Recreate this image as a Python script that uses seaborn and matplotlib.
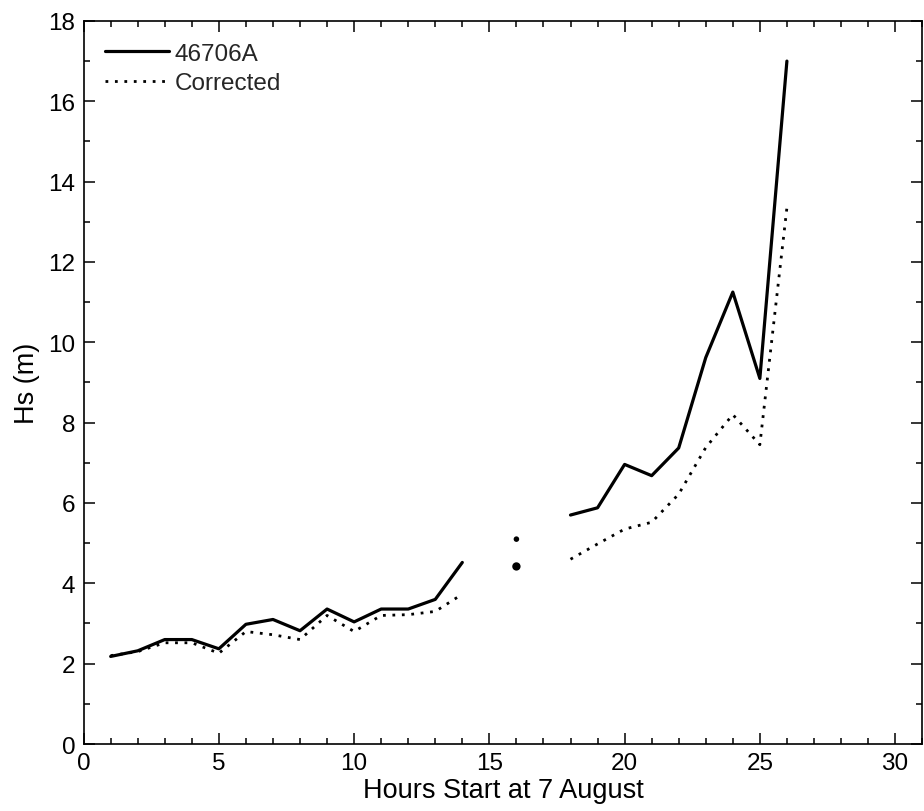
import numpy as np
import pandas as pd
import matplotlib
matplotlib.use("Agg")
import matplotlib.pyplot as plt
from matplotlib.ticker import MultipleLocator
from matplotlib.lines import Line2D
import seaborn as sns

# Hourly significant wave height, hours counted from 7 August
hours = list(range(1, 27))
hs_buoy = [2.18, 2.32, 2.6, 2.6, 2.37, 2.98, 3.1, 2.82, 3.36, 3.04, 3.36, 3.36,
           3.6, 4.52, np.nan, 5.1, np.nan, 5.7, 5.88, 6.96, 6.68, 7.37, 9.62,
           11.25, 9.1, 17.0]
hs_corrected = [2.2, 2.3, 2.52, 2.52, 2.26, 2.8, 2.72, 2.6, 3.2, 2.8, 3.2, 3.22,
                3.3, 3.73, np.nan, 4.42, np.nan, 4.6, 4.98, 5.35, 5.52, 6.22,
                7.38, 8.2, 7.45, 13.35]
series_labels = ["46706A", "Corrected"]

sns.set_theme(style="ticks")
plt.rcParams["font.family"] = ["Liberation Sans", "DejaVu Sans"]


def segmented(values):
    """Split a series with gaps into contiguous runs (unit ids)."""
    df = pd.DataFrame({"hour": hours, "hs": values})
    df["seg"] = df["hs"].isna().cumsum()
    df = df.dropna()
    counts = df.groupby("seg")["hs"].transform("size")
    return df[counts > 1], df[counts == 1]


fig = plt.figure(figsize=(9.24, 8.12), dpi=100)
ax = fig.add_axes([0.0905, 0.0825, 0.9075, 0.8905])

styles = [dict(ls="-", lw=2.3, ms=4), dict(ls=(0, (1.0, 2.4)), lw=2.0, ms=6)]
handles = []
for values, label, st in zip([hs_buoy, hs_corrected], series_labels, styles):
    runs, singles = segmented(values)
    sns.lineplot(data=runs, x="hour", y="hs", units="seg", estimator=None,
                 color="black", linestyle=st["ls"], linewidth=st["lw"],
                 ax=ax, legend=False)
    sns.scatterplot(data=singles, x="hour", y="hs", color="black", s=st["ms"] ** 2,
                    marker="o", edgecolor="none", ax=ax, legend=False)
    handles.append(Line2D([], [], color="black", linestyle=st["ls"], linewidth=st["lw"],
                          label=label))

ax.set_xlim(0, 31)
ax.set_ylim(0, 18)
ax.xaxis.set_major_locator(MultipleLocator(5))
ax.xaxis.set_minor_locator(MultipleLocator(1))
ax.yaxis.set_major_locator(MultipleLocator(2))
ax.yaxis.set_minor_locator(MultipleLocator(1))
ax.tick_params(which="both", direction="in", top=True, right=True,
               color="black", width=1.1)
ax.tick_params(which="major", length=8, labelsize=17.5, pad=6, labelcolor="black")
ax.tick_params(which="minor", length=4)
for sp in ax.spines.values():
    sp.set_visible(True)
    sp.set_linewidth(1.2)
    sp.set_color("black")

ax.set_xlabel("Hours Start at 7 August", fontsize=19.5, labelpad=2, color="black")
ax.set_ylabel("Hs (m)", fontsize=19.5, labelpad=6, color="black")

leg = ax.legend(handles=handles, loc="upper left", frameon=False, fontsize=17.5,
                handlelength=2.6, handletextpad=0.25, labelspacing=0.3,
                borderaxespad=0.5, borderpad=0.4)

fig.savefig("out.png", dpi=100)
